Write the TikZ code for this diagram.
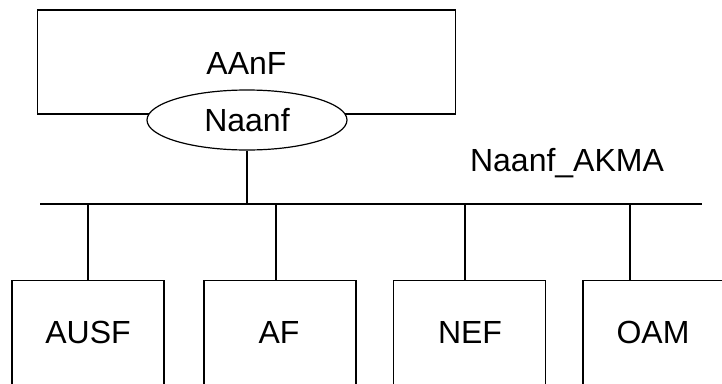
\documentclass[tikz,border=0pt]{standalone}
\usepackage{fontspec}
\setmainfont{Liberation Sans}
\usetikzlibrary{shapes.geometric}
\tikzset{
    nfbox/.style={draw, line width=1.2pt, minimum width=152pt, minimum height=140pt, anchor=north, inner sep=0pt},
    lbl/.style={font=\fontsize{32}{38}\selectfont, inner sep=0pt},
}
\begin{document}
\begin{tikzpicture}[x=1pt,y=1pt,line width=1.2pt]
        \useasboundingbox (0,0) rectangle (722,-383);
        \clip (0,0) rectangle (722,-383);
        % AAnF with its service interface
        \node[draw, line width=1.2pt, minimum width=418pt, minimum height=104pt, inner sep=0pt](aanf) at (246.5,-62){};
        \node[lbl] at ([yshift=-1pt]aanf.center){AAnF};
        \node[draw, ellipse, fill=white, line width=1.2pt, minimum width=200pt, minimum height=60pt, inner sep=0pt, lbl](naanf) at (247,-120){Naanf};
        \node[lbl] (akma) at (567,-163){Naanf\_AKMA};
        % bus
        \coordinate (busl) at (40,-204);
        \coordinate (busr) at (702,-204);
        \draw (busl) -- (busr);
        \draw (naanf.south) -- (naanf.south |- busl);
        % consumers
        \node[nfbox, lbl](ausf) at (88,-280){};
        \node[lbl] at (88,-332){AUSF};
        \node[nfbox, lbl](af) at (280,-280){};
        \node[lbl] at (279,-332){AF};
        \node[nfbox, lbl](nef) at (469.5,-280){};
        \node[lbl] at (470,-332){NEF};
        \node[nfbox, lbl](oam) at (659,-280){};
        \node[lbl] at (653,-332){OAM};
        \draw (ausf.north) -- (ausf.north |- busl);
        \draw ([xshift=-4pt]af.north) -- ([xshift=-4pt]af.north |- busl);
        \draw ([xshift=-4.5pt]nef.north) -- ([xshift=-4.5pt]nef.north |- busl);
        \draw ([xshift=-29pt]oam.north) -- ([xshift=-29pt]oam.north |- busl);
    \end{tikzpicture}
\end{document}
